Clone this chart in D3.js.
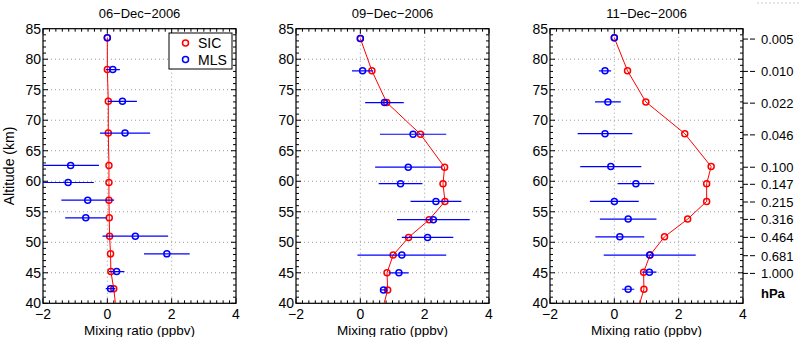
<!DOCTYPE html>
<html>
<head>
<meta charset="utf-8">
<script src="https://cdn.jsdelivr.net/npm/d3@7"></script>
<style>
  body { margin: 0; background: #fff; }
  text { font-family: "Liberation Sans", Arial, sans-serif; }
</style>
</head>
<body>
<svg id="chart" width="800" height="337"></svg>
<script>
// panel titles
var dates = ["06\u2212Dec\u22122006", "09\u2212Dec\u22122006", "11\u2212Dec\u22122006"];

// altitude (km) of each retrieval level, per date
var alt06 = [83.5, 78.3, 73.1, 67.9, 62.6, 59.8, 56.9, 54.0, 51.0, 48.1, 45.2, 42.4];
var alt09 = [83.4, 78.1, 72.9, 67.7, 62.3, 59.6, 56.7, 53.7, 50.8, 47.9, 45.0, 42.2];
var alt11 = [83.5, 78.1, 73.0, 67.8, 62.4, 59.6, 56.7, 53.8, 50.9, 47.9, 45.1, 42.3];

// SIC profiles (ppbv)
var sic06 = [0.0, 0.0, 0.03, 0.03, 0.05, 0.05, 0.05, 0.06, 0.07, 0.10, 0.11, 0.20];
var sic09 = [0.0, 0.36, 0.82, 1.87, 2.62, 2.57, 2.63, 2.14, 1.50, 1.02, 0.83, 0.85];
var sic11 = [0.0, 0.41, 0.98, 2.19, 3.01, 2.87, 2.87, 2.28, 1.56, 1.11, 0.91, 0.92];
// SIC value where the profile leaves the bottom of the plot (40 km)
var sicAt40 = [0.25, 0.74, 0.79];

// MLS profiles (ppbv) and their errors
var mls06 = [0.0, 0.17, 0.47, 0.55, -1.14, -1.22, -0.61, -0.67, 0.87, 1.85, 0.29, 0.10];
var err06 = [0.0, 0.22, 0.45, 0.78, 0.88, 0.80, 0.82, 0.64, 1.02, 0.71, 0.24, 0.15];
var mls09 = [0.0, 0.07, 0.75, 1.64, 1.49, 1.25, 2.35, 2.27, 2.09, 1.29, 1.20, 0.72];
var err09 = [0.0, 0.33, 0.60, 1.03, 1.03, 0.68, 0.79, 1.13, 0.80, 1.38, 0.30, 0.08];
var mls11 = [0.0, -0.29, -0.20, -0.29, -0.11, 0.67, 0.0, 0.43, 0.17, 1.10, 1.09, 0.43];
var err11 = [0.0, 0.19, 0.40, 0.85, 0.95, 0.57, 0.76, 0.88, 0.76, 1.43, 0.22, 0.19];

// pressure axis on the right
var pressLabels = ["0.005", "0.010", "0.022", "0.046", "0.100", "0.147", "0.215", "0.316", "0.464", "0.681", "1.000"];
var pressAlt = [83.3, 78.0, 72.8, 67.6, 62.3, 59.5, 56.6, 53.75, 50.8, 47.8, 44.9];

var panels = [
  {title: dates[0], alt: alt06, sic: sic06, mls: mls06, err: err06, bottom: sicAt40[0]},
  {title: dates[1], alt: alt09, sic: sic09, mls: mls09, err: err09, bottom: sicAt40[1]},
  {title: dates[2], alt: alt11, sic: sic11, mls: mls11, err: err11, bottom: sicAt40[2]}
];

var svg = d3.select("#chart");
var lefts = [43, 296, 550], pw = 193, plotTop = 28.7, plotBottom = 303.3;
var fmt = d3.format("d");

var y = d3.scaleLinear().domain([40, 85]).range([plotBottom, plotTop]);

panels.forEach(function(p, i) {
  var x = d3.scaleLinear().domain([-2, 4]).range([lefts[i], lefts[i] + pw]);
  var g = svg.append("g");

  g.append("clipPath").attr("id", "clip" + i)
    .append("rect").attr("x", lefts[i]).attr("y", plotTop).attr("width", pw).attr("height", plotBottom - plotTop);

  // dotted grid
  g.selectAll(".gx").data([0, 2]).enter().append("line")
      .attr("x1", function(d) { return x(d); }).attr("x2", function(d) { return x(d); })
      .attr("y1", plotTop).attr("y2", plotBottom)
      .attr("stroke", "#999").attr("stroke-width", 1).attr("stroke-dasharray", "1,3");
  g.selectAll(".gy").data(d3.range(45, 85, 5)).enter().append("line")
      .attr("x1", lefts[i]).attr("x2", lefts[i] + pw)
      .attr("y1", function(d) { return y(d); }).attr("y2", function(d) { return y(d); })
      .attr("stroke", "#999").attr("stroke-width", 1).attr("stroke-dasharray", "1,3");

  // minor + major ticks, inward, on all four sides
  var xt = g.append("g").attr("stroke", "#000");
  d3.range(-2, 4.001, 0.2).forEach(function(v) {
    var major = Math.abs(v - Math.round(v / 2) * 2) < 1e-6;
    var len = major ? 5 : 3;
    xt.append("line").attr("x1", x(v)).attr("x2", x(v)).attr("y1", plotBottom).attr("y2", plotBottom - len);
    xt.append("line").attr("x1", x(v)).attr("x2", x(v)).attr("y1", plotTop).attr("y2", plotTop + len);
  });
  d3.range(40, 85.001, 1).forEach(function(v) {
    var len = v % 5 === 0 ? 5 : 3;
    xt.append("line").attr("x1", lefts[i]).attr("x2", lefts[i] + len).attr("y1", y(v)).attr("y2", y(v));
    xt.append("line").attr("x1", lefts[i] + pw).attr("x2", lefts[i] + pw - len).attr("y1", y(v)).attr("y2", y(v));
  });

  g.append("rect").attr("x", lefts[i]).attr("y", plotTop).attr("width", pw).attr("height", plotBottom - plotTop)
    .attr("fill", "none").attr("stroke", "#000").attr("stroke-width", 1.2);

  // tick labels
  g.selectAll(".xl").data(d3.range(-2, 5, 2)).enter().append("text")
      .attr("x", function(d) { return x(d); }).attr("y", 319)
      .attr("text-anchor", "middle").attr("font-size", 14).text(function(d) { return fmt(d); });
  g.selectAll(".yl").data(d3.range(40, 86, 5)).enter().append("text")
      .attr("x", lefts[i] - 2).attr("y", function(d) { return y(d) + 5; })
      .attr("text-anchor", "end").attr("font-size", 14).text(function(d) { return d; });

  g.append("text").attr("x", lefts[i] + pw / 2).attr("y", 18).attr("text-anchor", "middle")
    .attr("font-size", 13).text(p.title);
  g.append("text").attr("x", lefts[i] + pw / 2).attr("y", 335).attr("text-anchor", "middle")
    .attr("font-size", 13.5).text("Mixing ratio (ppbv)");

  var plot = g.append("g").attr("clip-path", "url(#clip" + i + ")");

  // SIC profile line, continued to the bottom of the axis
  var linePts = p.alt.map(function(a, k) { return [p.sic[k], a]; }).concat([[p.bottom, 40]]);
  plot.append("path").datum(linePts)
    .attr("d", d3.line().x(function(d) { return x(d[0]); }).y(function(d) { return y(d[1]); }))
    .attr("fill", "none").attr("stroke", "#f00").attr("stroke-width", 1);

  plot.selectAll(".sic").data(p.alt).enter().append("circle")
      .attr("cx", function(d, k) { return x(p.sic[k]); })
      .attr("cy", function(d) { return y(d); })
      .attr("r", 3).attr("fill", "none").attr("stroke", "#f00").attr("stroke-width", 1.5);

  // MLS error bars and points
  plot.selectAll(".err").data(p.alt).enter().append("line")
      .attr("x1", function(d, k) { return x(p.mls[k] - p.err[k]); })
      .attr("x2", function(d, k) { return x(p.mls[k] + p.err[k]); })
      .attr("y1", function(d) { return y(d); }).attr("y2", function(d) { return y(d); })
      .attr("stroke", "#00f").attr("stroke-width", 1.2);
  plot.selectAll(".mls").data(p.alt).enter().append("circle")
      .attr("cx", function(d, k) { return x(p.mls[k]); })
      .attr("cy", function(d) { return y(d); })
      .attr("r", 3).attr("fill", "none").attr("stroke", "#00f").attr("stroke-width", 1.5);

  if (i === 0) {
    var lg = g.append("g");
    lg.append("rect").attr("x", 169).attr("y", 33).attr("width", 63).attr("height", 36)
      .attr("fill", "#fff").attr("stroke", "#000").attr("stroke-width", 1);
    [["SIC", "#f00"], ["MLS", "#00f"]].forEach(function(e, k) {
      var yy = 43 + k * 16.5;
      lg.append("circle").attr("cx", 185.5).attr("cy", yy).attr("r", 3)
        .attr("fill", "none").attr("stroke", e[1]).attr("stroke-width", 1.5);
      lg.append("text").attr("x", 198).attr("y", yy + 5).attr("font-size", 14).text(e[0]);
    });

    g.append("text").attr("transform", "translate(14," + ((plotTop + plotBottom) / 2) + ") rotate(-90)")
      .attr("text-anchor", "middle").attr("font-size", 14).text("Altitude (km)");
  }

  if (i === 2) {
    var pr = g.append("g");
    pressAlt.forEach(function(a, k) {
      pr.append("line").attr("x1", lefts[i] + pw).attr("x2", lefts[i] + pw + 14)
        .attr("y1", y(a)).attr("y2", y(a))
        .attr("stroke", "#000").attr("stroke-width", 1).attr("stroke-dasharray", "5,2");
      pr.append("text").attr("x", 761).attr("y", y(a) + 5).attr("font-size", 13).text(pressLabels[k]);
    });
    pr.append("text").attr("x", 761).attr("y", 298).attr("font-size", 13)
      .attr("font-weight", "bold").text("hPa");
  }
});

// faint dotted mark in the top right corner of the figure
svg.append("line").attr("x1", 757).attr("x2", 800).attr("y1", 3).attr("y2", 3)
  .attr("stroke", "#ccc").attr("stroke-dasharray", "2,2");
</script>
</body>
</html>
